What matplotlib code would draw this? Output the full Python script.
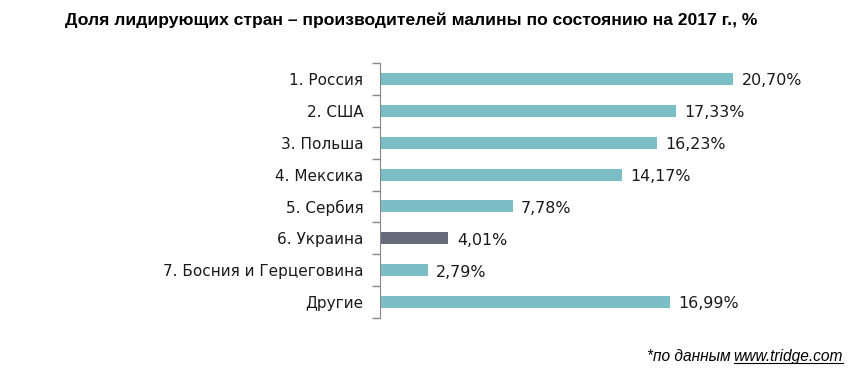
import matplotlib
matplotlib.use("Agg")
import matplotlib.pyplot as plt
from matplotlib.lines import Line2D

# data
countries = ["1. Россия", "2. США", "3. Польша", "4. Мексика", "5. Сербия",
             "6. Украина", "7. Босния и Герцеговина", "Другие"]
shares = [20.70, 17.33, 16.23, 14.17, 7.78, 4.01, 2.79, 16.99]
labels = ["20,70%", "17,33%", "16,23%", "14,17%", "7,78%", "4,01%", "2,79%", "16,99%"]
highlight = "6. Украина"

teal = "#7BBEC6"
grey = "#676A7B"

fig = plt.figure(figsize=(8.54, 3.81), dpi=100)
ax = fig.add_axes([380/854, 1-318/381, (854-380)/854, (318-63)/381])

y = list(range(len(countries)))
colors = [grey if c == highlight else teal for c in countries]
ax.barh(y, shares, height=0.38, color=colors)
ax.set_ylim(len(countries) - 0.5, -0.5)
ax.set_xlim(0, (854-380)/((733-380)/20.70))

for yi, v, lab in zip(y, shares, labels):
    ax.text(v + 0.5, yi + 0.06, lab, va="center", ha="left", fontsize=11.4,
            family="DejaVu Sans", color="#1a1a1a")

ax.set_yticks([i + 0.5 for i in range(-1, len(countries))])
ax.set_yticklabels([])
ax.set_yticks(y, minor=True)
ax.set_yticklabels(countries, minor=True, fontsize=11, family="DejaVu Sans", color="#1a1a1a")
ax.tick_params(axis="y", which="major", length=6, color="#888888", width=1)
ax.tick_params(axis="y", which="minor", length=0, pad=12)
ax.set_xticks([])
for s in ["top", "right", "bottom"]:
    ax.spines[s].set_visible(False)
ax.spines["left"].set_color("#888888")

fig.text(411/854, 1-20/381, "Доля лидирующих стран – производителей малины по состоянию на 2017 г., %",
         ha="center", va="center", fontsize=12.6, fontweight="bold", family="Liberation Sans")

# footnote with underlined url
base = 1 - 361/381
t2 = fig.text(843/854, base, "www.tridge.com", ha="right", va="baseline",
              fontsize=11.2, style="italic", family="Liberation Sans")
fig.canvas.draw()
r = fig.canvas.get_renderer()
bb = t2.get_window_extent(r).transformed(fig.transFigure.inverted())
fig.text(bb.x0 - 0.004, base, "*по данным", ha="right", va="baseline",
         fontsize=11.2, style="italic", family="Liberation Sans")
fig.add_artist(Line2D([bb.x0, bb.x1], [base - 0.006, base - 0.006],
                      transform=fig.transFigure, color="black", lw=0.8))

fig.savefig("out.png", dpi=100)
